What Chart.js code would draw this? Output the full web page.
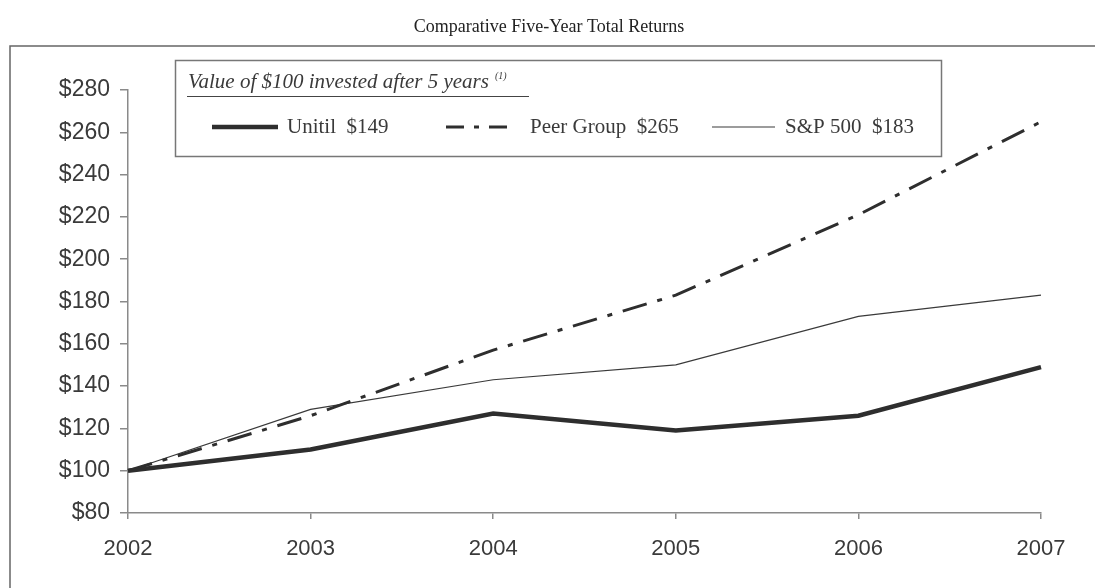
<!DOCTYPE html>
<html>
<head>
<meta charset="utf-8">
<script src="https://cdn.jsdelivr.net/npm/chart.js@4.4.1/dist/chart.umd.min.js"></script>
<style>
  body { margin: 0; background: #fff; }
  #wrap { width: 1095px; height: 588px; position: relative; }
</style>
</head>
<body>
<div id="wrap"><canvas id="returns-chart"></canvas></div>
<script>
// values
const years = ['2002', '2003', '2004', '2005', '2006', '2007'];
const unitil = [100, 110, 127, 119, 126, 149];
const peerGroup = [100, 126, 157, 183, 221, 265];
const sp500 = [100, 129, 143, 150, 173, 183];
const yMin = 80, yMax = 280, yStep = 20;

const ink = '#2e2e2e';
const axisGrey = '#8a8a8a';
const serif = '"Liberation Serif", "Times New Roman", serif';
const sans = '"Liberation Sans", Arial, sans-serif';

// title, outer frame and boxed legend
const decorations = {
  id: 'decorations',
  afterDraw(chart) {
    const c = chart.ctx;
    c.save();

    c.fillStyle = '#222';
    c.font = '18px ' + serif;
    c.textAlign = 'center';
    c.textBaseline = 'middle';
    c.fillText('Comparative Five-Year Total Returns', 549, 27);

    c.strokeStyle = '#666';
    c.lineWidth = 1.5;
    c.beginPath();
    c.moveTo(10, 588);
    c.lineTo(10, 46);
    c.lineTo(1095, 46);
    c.stroke();

    // legend box
    c.strokeStyle = '#777';
    c.lineWidth = 1.5;
    c.strokeRect(175.5, 60.5, 766, 96);

    c.fillStyle = '#3a3a3a';
    c.textAlign = 'left';
    c.font = 'italic 21px ' + serif;
    const head = 'Value of $100 invested after 5 years';
    c.fillText(head, 188, 82);
    const hw = c.measureText(head).width;
    c.font = 'italic 10px ' + serif;
    c.fillText('(1)', 188 + hw + 6, 76);
    c.strokeStyle = '#444';
    c.lineWidth = 1;
    c.beginPath();
    c.moveTo(187, 96.5);
    c.lineTo(529, 96.5);
    c.stroke();

    const slots = [[212, 278, 287], [446, 512, 530], [712, 775, 785]];
    chart.data.datasets.forEach((ds, i) => {
      const [x0, x1, tx] = slots[i];
      c.strokeStyle = ds.borderColor;
      c.lineWidth = ds.borderWidth;
      c.setLineDash(ds.legendDash || []);
      c.beginPath();
      c.moveTo(x0, 127);
      c.lineTo(x1, 127);
      c.stroke();
      c.setLineDash([]);
      c.fillStyle = '#3a3a3a';
      c.font = '21px ' + serif;
      c.fillText(ds.label + '  $' + ds.data[ds.data.length - 1], tx, 127);
    });

    c.restore();
  }
};

new Chart(document.getElementById('returns-chart'), {
  type: 'line',
  data: {
    labels: years,
    datasets: [
      {
        label: 'Unitil',
        data: unitil,
        borderColor: ink,
        borderWidth: 4.5,
        pointRadius: 0,
        tension: 0
      },
      {
        label: 'Peer Group',
        data: peerGroup,
        borderColor: ink,
        borderWidth: 3,
        borderDash: [25, 11, 5, 11],
        legendDash: [18, 10, 5, 10],
        pointRadius: 0,
        tension: 0
      },
      {
        label: 'S&P 500',
        data: sp500,
        borderColor: '#3a3a3a',
        borderWidth: 1.2,
        pointRadius: 0,
        tension: 0
      }
    ]
  },
  options: {
    responsive: true,
    maintainAspectRatio: false,
    animation: false,
    layout: { padding: { left: 10, right: 54, top: 90, bottom: 25 } },
    plugins: {
      legend: { display: false },
      title: { display: false },
      tooltip: { enabled: false }
    },
    scales: {
      x: {
        offset: false,
        grid: { drawOnChartArea: false, drawTicks: true, tickLength: 6, color: axisGrey, lineWidth: 1.5 },
        border: { color: axisGrey, width: 1.5 },
        ticks: { color: '#3a3a3a', font: { family: sans, size: 22 }, padding: 17, maxRotation: 0 },
        afterFit(scale) { scale.height = 50; }
      },
      y: {
        min: yMin,
        max: yMax,
        grid: { drawOnChartArea: false, drawTicks: true, tickLength: 8, color: axisGrey, lineWidth: 1.5 },
        border: { color: axisGrey, width: 1.5 },
        ticks: {
          stepSize: yStep,
          color: '#3a3a3a',
          font: { family: sans, size: 23 },
          padding: 10,
          callback: v => '$' + v
        },
        afterFit(scale) { scale.width = 118; }
      }
    }
  },
  plugins: [decorations]
});
</script>
</body>
</html>
